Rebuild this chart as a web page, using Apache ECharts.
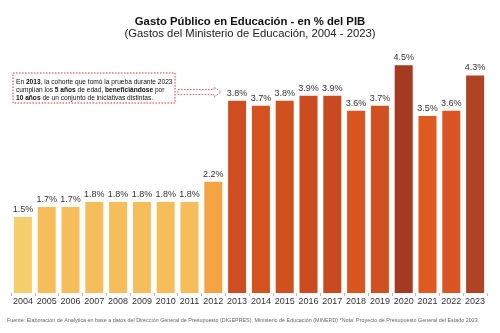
<!DOCTYPE html>
<html>
<head>
<meta charset="utf-8">
<script src="https://cdn.jsdelivr.net/npm/echarts@6/dist/echarts.min.js"></script>
<style>html,body{margin:0;padding:0;background:#fff}#c{width:500px;height:333px}</style>
</head>
<body>
<div id="c"></div>
<script>
const years = ['2004','2005','2006','2007','2008','2009','2010','2011','2012','2013','2014','2015','2016','2017','2018','2019','2020','2021','2022','2023'];
const gasto = [1.5,1.7,1.7,1.8,1.8,1.8,1.8,1.8,2.2,3.8,3.7,3.8,3.9,3.9,3.6,3.7,4.5,3.5,3.6,4.3];
const barColors = ['#F5CF6B','#F6BD5B','#F6BD5B','#F6BD5B','#F6BD5B','#F6BD5B','#F6BD5B','#F6BD5B','#F5A444',
  '#CF4E21','#D3521F','#D0501F','#CC4C20','#C94A20','#D9561F','#D15020','#A43A22','#DF5A20','#D95523','#B04323'];

const font = 'Liberation Sans, Arial, sans-serif';
const chart = echarts.init(document.getElementById('c'));
chart.setOption({
  animation: false,
  title: [{
    text: 'Gasto Público en Educación - en % del PIB',
    subtext: '(Gastos del Ministerio de Educación, 2004 - 2023)',
    left: 'center', top: 11, itemGap: 1,
    textStyle: {fontFamily: font, fontSize: 11.3, fontWeight: 'bold', color: '#111'},
    subtextStyle: {fontFamily: font, fontSize: 11.3, color: '#222'}
  }],
  grid: {left: 11, right: 13, top: 40, bottom: 40},
  xAxis: {
    type: 'category', data: years,
    axisLine: {show: false},
    axisTick: {show: true, length: 3, lineStyle: {color: '#bbb'}},
    axisLabel: {interval: 0, fontFamily: font, fontSize: 9, color: '#333', margin: 4}
  },
  yAxis: {type: 'value', min: 0, max: 5, show: false, splitLine: {show: false}},
  series: [{
    type: 'bar', barWidth: 18,
    data: gasto.map((v, i) => ({value: v, itemStyle: {color: barColors[i]}})),
    label: {show: true, position: 'top', distance: 3, formatter: p => p.value.toFixed(1) + '%',
      fontFamily: font, fontSize: 9, color: '#333'}
  }],
  graphic: [
    {type: 'rect', shape: {x: 13, y: 73, width: 162, height: 30},
     style: {fill: '#fff', stroke: '#D6303A', lineWidth: 1, lineDash: [1.5, 1.5]}},
    {type: 'text', left: 16, top: 78.5,
     style: {
       text: 'En {b|2013}, la cohorte que tomó la prueba durante 2023\ncumplían los {b|5 años} de edad, {b|beneficiándose} por\n{b|10 años} de un conjunto de iniciativas distintas.',
       font: '6.6px Liberation Sans, Arial, sans-serif', fill: '#111', lineHeight: 8,
       rich: {b: {fontWeight: 'bold', fontSize: 6.6, fontFamily: font, fill: '#111'}}
     }},
    {type: 'polygon', shape: {points: [[178, 89.5], [214, 89.5], [214, 87], [221, 92], [214, 97], [214, 94.5], [178, 94.5]]},
     style: {fill: '#fff', stroke: '#D6303A', lineWidth: 0.8, lineDash: [1.5, 1.5]}},
    {type: 'text', left: 7, top: 318,
     style: {text: 'Fuente: Elaboración de Analytica en base a datos del Dirección General de Presupuesto (DIGEPRES), Ministerio de Educación (MINERD) *Nota: Proyecto de Presupuesto General del Estado 2023.',
       font: '5.4px Liberation Sans, Arial, sans-serif', fill: '#666'}}
  ]
});
</script>
</body>
</html>
